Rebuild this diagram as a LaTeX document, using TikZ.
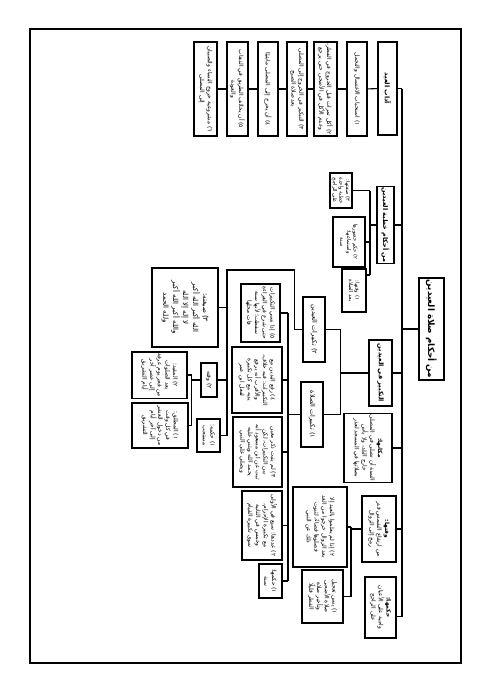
\documentclass[tikz,border=0pt]{standalone}
\usepackage{fontspec}
\newfontfamily\arabicfont[Script=Arabic]{DejaVu Sans}
\TeXXeTstate=1
\newcommand\ar[1]{\beginR #1\endR}
\tikzset{
  every picture/.style={line width=0.9pt},
  box/.style={draw, fill=white, rotate=-90, align=center, inner sep=1pt, line width=1.1pt, font=\arabicfont\fontsize{5}{6.6}\selectfont},
  head/.style={box, font=\arabicfont\bfseries\fontsize{5.5}{7}\selectfont},
  tiny/.style={font=\arabicfont\fontsize{4.5}{5.6}\selectfont},
  sz/.style 2 args={minimum width=#1*0.03cm, minimum height=#2*0.03cm},
  link/.style={draw, line width=0.9pt},
}

\begin{document}
\begin{tikzpicture}[x=0.03cm, y=-0.03cm]
  \useasboundingbox (0,0) rectangle (491,694);
  \draw[line width=1.2pt] (30,29) rectangle (461,663);
  % root and the trunk
  \node[head, sz={102}{25}, font=\arabicfont\bfseries\fontsize{7.5}{9}\selectfont] (root) at (431.5,329) {\ar{من أحكام صلاة العيدين}};
  \coordinate (trunk) at (402,0);
  \node[head, sz={93}{19}] (adab) at (387.5,88.5) {\ar{آداب العيد}};
  \node[head, sz={74}{17}] (khutba) at (385.5,225) {\ar{من أحكام خطبة العيدين}};
  \node[head, sz={66}{23}] (takbir) at (380.5,373) {\ar{التكبير في العيدين}};
  \node[box, sz={68}{48}] (makan) at (368,448) {\ar{{\bfseries مكانها:}}\\\ar{السنة أن تصلى في المصلى}\\\ar{خارج البلد، ولا بأس}\\\ar{بصلاتها في المسجد لعذر}};
  \node[box, sz={66}{34}] (waqt) at (379,529) {\ar{{\bfseries وقتها:}}\\\ar{من ارتفاع الشمس قدر}\\\ar{رمح إلى الزوال}};
  \node[box, sz={61}{31}] (hukm) at (380.5,607.5) {\ar{{\bfseries حكمها:}}\\\ar{واجبة على الأعيان}\\\ar{على الراجح}};
  \coordinate (hukmc) at ([yshift=-0.27cm]hukm.north);
  \draw[link] (root) -- (root -| trunk);
  \draw[link] (adab -| trunk) -- (hukmc -| trunk);
  \draw[link] (adab) -- (adab -| trunk);
  \draw[link] (khutba) -- (khutba -| trunk);
  \draw[link] (takbir) -- (takbir -| trunk);
  \draw[link] (makan) -- (makan -| trunk);
  \draw[link] (waqt) -- (waqt -| trunk);
  \draw[link] (hukmc) -- (hukmc -| trunk);
  % etiquette of the day, a chain
  \node[box, sz={94}{20}] (a1) at (357,89) {\ar{١) استحباب الاغتسال والتجمل}};
  \node[box, sz={94}{23}] (a2) at (325.5,89) {\ar{٢) أكل تمرات قبل الخروج في الفطر،}\\\ar{وعدم الأكل في الأضحى حتى يرجع}};
  \node[box, sz={94}{20}] (a3) at (297,89) {\ar{٣) التبكير في الخروج إلى المصلى}\\\ar{بعد صلاة الصبح}};
  \node[box, sz={94}{20}] (a4) at (268,89) {\ar{٤) أن يخرج إلى المصلى ماشيًا}};
  \node[box, sz={94}{21}] (a5) at (237.5,89) {\ar{٥) أن يخالف الطريق في الذهاب}\\\ar{والعودة}};
  \node[box, sz={94}{23}] (a6) at (205.5,89) {\ar{٦) مشروعية خروج النساء والصبيان}\\\ar{إلى المصلى}};
  \draw[link] (adab) -- (a1);
  \draw[link] (a1) -- (a2);
  \draw[link] (a2) -- (a3);
  \draw[link] (a3) -- (a4);
  \draw[link] (a4) -- (a5);
  \draw[link] (a5) -- (a6);
  % sermon
  \coordinate (kbar) at (370,0);
  \node[box, tiny, sz={35}{22}] (k1) at (341,190.5) {\ar{٣) صفتها:}\\\ar{خطبة واحدة}\\\ar{على الراجح}};
  \node[box, tiny, sz={50}{32}] (k2) at (349,242) {\ar{٢) حكم حضورها}\\\ar{واستماعها:}\\\ar{سنة}};
  \node[box, tiny, sz={43}{24}] (k3) at (354,290.5) {\ar{١) وقتها:}\\\ar{بعد الصلاة}};
  \coordinate (k3c) at ([yshift=0.465cm]k3.north);
  \draw[link] (khutba) -- (khutba -| kbar);
  \draw[link] (k1 -| kbar) -- (k3c -| kbar);
  \draw[link] (k1) -- (k1 -| kbar);
  \draw[link] (k2) -- (k2 -| kbar);
  \draw[link] (k3c) -- (k3c -| kbar);
  % takbir
  \coordinate (tbar) at (340.5,0);
  \node[box, sz={65}{22}, font=\arabicfont\fontsize{5.5}{7}\selectfont] (t2) at (314,329.5) {\ar{٢) تكبيرات العيدين}};
  \node[box, sz={65}{22}, font=\arabicfont\fontsize{5.5}{7}\selectfont] (t1) at (312,414.5) {\ar{١) تكبيرات الصلاة}};
  \draw[link] (takbir) -- (takbir -| tbar);
  \draw[link] (t2 -| tbar) -- (t1 -| tbar);
  \draw[link] (t2) -- (t2 -| tbar);
  \draw[link] (t1) -- (t1 -| tbar);
  % the takbir of the days
  \coordinate (sbar) at (227,270);
  \node[box, sz={79}{66}, font=\arabicfont\fontsize{6}{8.5}\selectfont] (s3) at (185,307.5) {\ar{٣) صيغته:}\\\ar{الله أكبر الله أكبر}\\\ar{لا إله إلا الله}\\\ar{والله أكبر الله أكبر}\\\ar{ولله الحمد}};
  \node[box, sz={34}{16}] (s2) at (209,380) {\ar{٢) وقته}};
  \node[box, sz={33}{23}] (s1) at (208.5,435.5) {\ar{١) حكمه:}\\\ar{مستحب}};
  \draw[link] (t2.south) -- ++(-8,0) |- (sbar) -- (s1 -| sbar);
  \draw[link] (s3) -- (s3 -| sbar);
  \draw[link] (s2) -- (s2 -| sbar);
  \draw[link] (s1) -- (s1 -| sbar);
  \coordinate (mbar) at (191.7,0);
  \node[box, sz={46}{55}] (m2) at (159.5,375) {\ar{٢) المقيد:}\\\ar{بعد الصلوات}\\\ar{من فجر يوم عرفة}\\\ar{إلى عصر آخر}\\\ar{أيام التشريق}};
  \node[box, sz={45}{56}] (m1) at (160,425.5) {\ar{١) المطلق:}\\\ar{في كل وقت}\\\ar{من دخول العشر}\\\ar{إلى آخر أيام}\\\ar{التشريق}};
  \draw[link] (s2) -- (s2 -| mbar);
  \draw[link] (m2 -| mbar) -- (m1 -| mbar);
  \draw[link] (m2) -- (m2 -| mbar);
  \draw[link] (m1) -- (m1 -| mbar);
  % the takbir of the prayer
  \coordinate (pbar) at (288,0);
  \node[box, sz={34}{23}] (p1) at (270.5,581) {\ar{١) حكمها:}\\\ar{سنة}};
  \node[box, sz={69}{40}] (p2) at (262,525.5) {\ar{٢) عددها: سبع في الأولى}\\\ar{مع تكبيرة الإحرام،}\\\ar{وخمس في الثانية}\\\ar{سوى تكبيرة القيام}};
  \node[box, sz={70}{49}] (p3) at (257.5,452) {\ar{٣) لم يثبت ذكر معين}\\\ar{بين التكبيرات، لكن}\\\ar{ثبت عن ابن مسعود أنه}\\\ar{يحمد الله ويثني عليه}\\\ar{ويصلي على النبي}};
  \node[box, sz={66}{50}] (p4) at (257,380) {\ar{٤) رفع اليدين مع}\\\ar{التكبيرات: فيه خلاف،}\\\ar{والأقرب أنه يرفع}\\\ar{يديه مع كل تكبيرة}\\\ar{لفعل ابن عمر}};
  \node[box, sz={58}{39}] (p5) at (260.5,313) {\ar{٥) إذا نسي التكبيرات}\\\ar{حتى شرع في القراءة}\\\ar{سقطت؛ لأنها سنة}\\\ar{فات محلها}};
  \draw[link] (t1) -- (t1 -| pbar);
  \draw[link] (p5 -| pbar) -- (p1 -| pbar);
  \draw[link] (p1) -- (p1 -| pbar);
  \draw[link] (p2) -- (p2 -| pbar);
  \draw[link] (p3) -- (p3 -| pbar);
  \draw[link] (p4) -- (p4 -| pbar);
  \draw[link] (p5) -- (p5 -| pbar);
  % time of the prayer
  \coordinate (wbar) at (351,0);
  \node[box, sz={80}{54}] (w2) at (320,527) {\ar{٢) إذا لم يعلموا بالعيد إلا}\\\ar{بعد الزوال خرجوا من الغد}\\\ar{فصلوها قضاءً، لثبوت}\\\ar{ذلك عن النبي}};
  \node[box, sz={53}{41}] (w1) at (322.5,596.5) {\ar{١) يسن تعجيل}\\\ar{صلاة الأضحى}\\\ar{وتأخير صلاة}\\\ar{الفطر قليلًا}};
  \draw[link] (waqt) -- (waqt -| wbar);
  \draw[link] (w2 -| wbar) -- (w1 -| wbar);
  \draw[link] (w2) -- (w2 -| wbar);
  \draw[link] (w1) -- (w1 -| wbar);
\end{tikzpicture}
\end{document}
